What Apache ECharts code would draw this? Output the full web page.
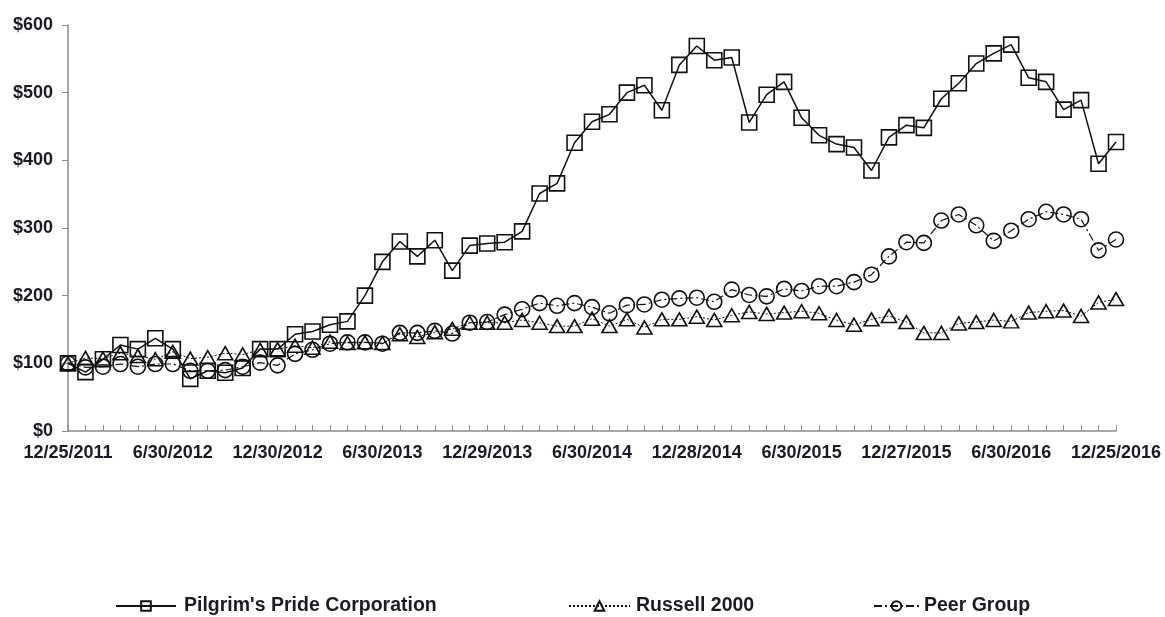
<!DOCTYPE html>
<html>
<head>
<meta charset="utf-8">
<script src="https://cdn.jsdelivr.net/npm/echarts@6/dist/echarts.min.js"></script>
<style>
html,body{margin:0;padding:0;background:#fff;}
#chart{width:1165px;height:617px;}
</style>
</head>
<body>
<div id="chart"></div>
<script>
var categories = [
"12/25/2011","1/29/2012","2/26/2012","3/25/2012","4/29/2012","5/27/2012",
"6/30/2012","7/29/2012","8/26/2012","9/30/2012","10/28/2012","11/25/2012",
"12/30/2012","1/27/2013","2/24/2013","3/31/2013","4/28/2013","5/26/2013",
"6/30/2013","7/28/2013","8/25/2013","9/29/2013","10/27/2013","11/24/2013",
"12/29/2013","1/26/2014","2/23/2014","3/30/2014","4/27/2014","5/25/2014",
"6/30/2014","7/27/2014","8/31/2014","9/28/2014","10/26/2014","11/30/2014",
"12/28/2014","1/25/2015","2/22/2015","3/29/2015","4/26/2015","5/31/2015",
"6/30/2015","7/26/2015","8/30/2015","9/27/2015","10/25/2015","11/29/2015",
"12/27/2015","1/31/2016","2/28/2016","3/27/2016","4/24/2016","5/29/2016",
"6/30/2016","7/31/2016","8/28/2016","9/25/2016","10/30/2016","11/27/2016",
"12/25/2016"
];
var pilgrims = [100,87,106,127,121,137,121,77,89,86,93,121,121,143,147,157,162,200,250,280,258,282,237,274,277,279,295,351,366,426,457,468,500,511,474,541,569,548,552,456,497,516,463,437,424,419,385,434,452,448,491,514,543,558,571,522,516,475,489,395,427];
var russell = [100,108,107,115,111,106,117,107,109,115,113,120,121,126,123,132,130,131,130,143,139,146,151,160,160,160,164,160,155,155,166,155,165,153,165,165,169,164,171,176,173,175,177,174,164,157,165,170,161,145,145,159,161,164,162,175,177,178,170,190,195];
var peer = [100,94,95,99,95,99,99,89,89,90,95,101,97,114,120,129,131,131,129,145,145,148,144,160,161,172,180,189,185,189,183,174,186,187,194,196,197,191,209,201,199,210,207,214,214,220,231,258,279,278,311,320,304,281,296,313,324,320,313,267,283];
var seriesNames = ["Pilgrim's Pride Corporation","Russell 2000","Peer Group"];
var yTicks = [0,100,200,300,400,500,600];

var chart = echarts.init(document.getElementById('chart'), null, {renderer:'canvas'});
var txt = '#1b1b24';
var font = '"Liberation Sans", Arial, sans-serif';
function legendFor(name, left, w, pad){
  return {
    data:[name], left:left, top:596, padding:0, itemWidth:w, itemHeight:12,
    textStyle:{fontFamily:font, fontWeight:'bold', fontSize:19.5, color:txt, padding:[0,0,0,pad]},
    selectedMode:false
  };
}
var option = {
  backgroundColor:'#fff',
  animation:false,
  grid:{left:68, right:49, top:25, bottom:186, containLabel:false},
  legend:[legendFor(seriesNames[0],115,60,3), legendFor(seriesNames[1],568,61,1), legendFor(seriesNames[2],873,45,0)],
  xAxis:{
    type:'category', data:categories, boundaryGap:false,
    axisLine:{lineStyle:{color:'#8a8a8a', width:1.5}},
    axisTick:{show:true, inside:true, length:6, interval:0, lineStyle:{color:'#8a8a8a'}},
    axisLabel:{interval:5, color:txt, fontFamily:font, fontWeight:'bold', fontSize:18, margin:13},
    splitLine:{show:false}
  },
  yAxis:{
    type:'value', min:0, max:600, interval:100,
    axisLine:{show:true, lineStyle:{color:'#8a8a8a', width:1.5}},
    axisTick:{show:true, length:6, lineStyle:{color:'#8a8a8a'}},
    axisLabel:{color:txt, fontFamily:font, fontWeight:'bold', fontSize:18, margin:15,
      formatter:function(v){ return yTicks.indexOf(v) >= 0 ? '$' + v : ''; }},
    splitLine:{show:false}
  },
  series:[
    {name:seriesNames[0], type:'line', data:pilgrims, symbol:'rect', symbolSize:15, showAllSymbol:true,
     lineStyle:{color:'#111', width:1.5, type:'solid'},
     itemStyle:{color:'rgba(255,255,255,0)', borderColor:'#111', borderWidth:1.6}, z:3},
    {name:seriesNames[1], type:'line', data:russell, symbol:'triangle', symbolSize:[15,13], showAllSymbol:true,
     lineStyle:{color:'#111', width:1, type:[2,2]},
     itemStyle:{color:'rgba(255,255,255,0)', borderColor:'#111', borderWidth:1.6}, z:2},
    {name:seriesNames[2], type:'line', data:peer, symbol:'circle', symbolSize:15, showAllSymbol:true,
     lineStyle:{color:'#111', width:1.2, type:[8,3,2,3]},
     itemStyle:{color:'rgba(255,255,255,0)', borderColor:'#111', borderWidth:1.6}, z:2}
  ]
};
chart.setOption(option);
</script>
</body>
</html>
